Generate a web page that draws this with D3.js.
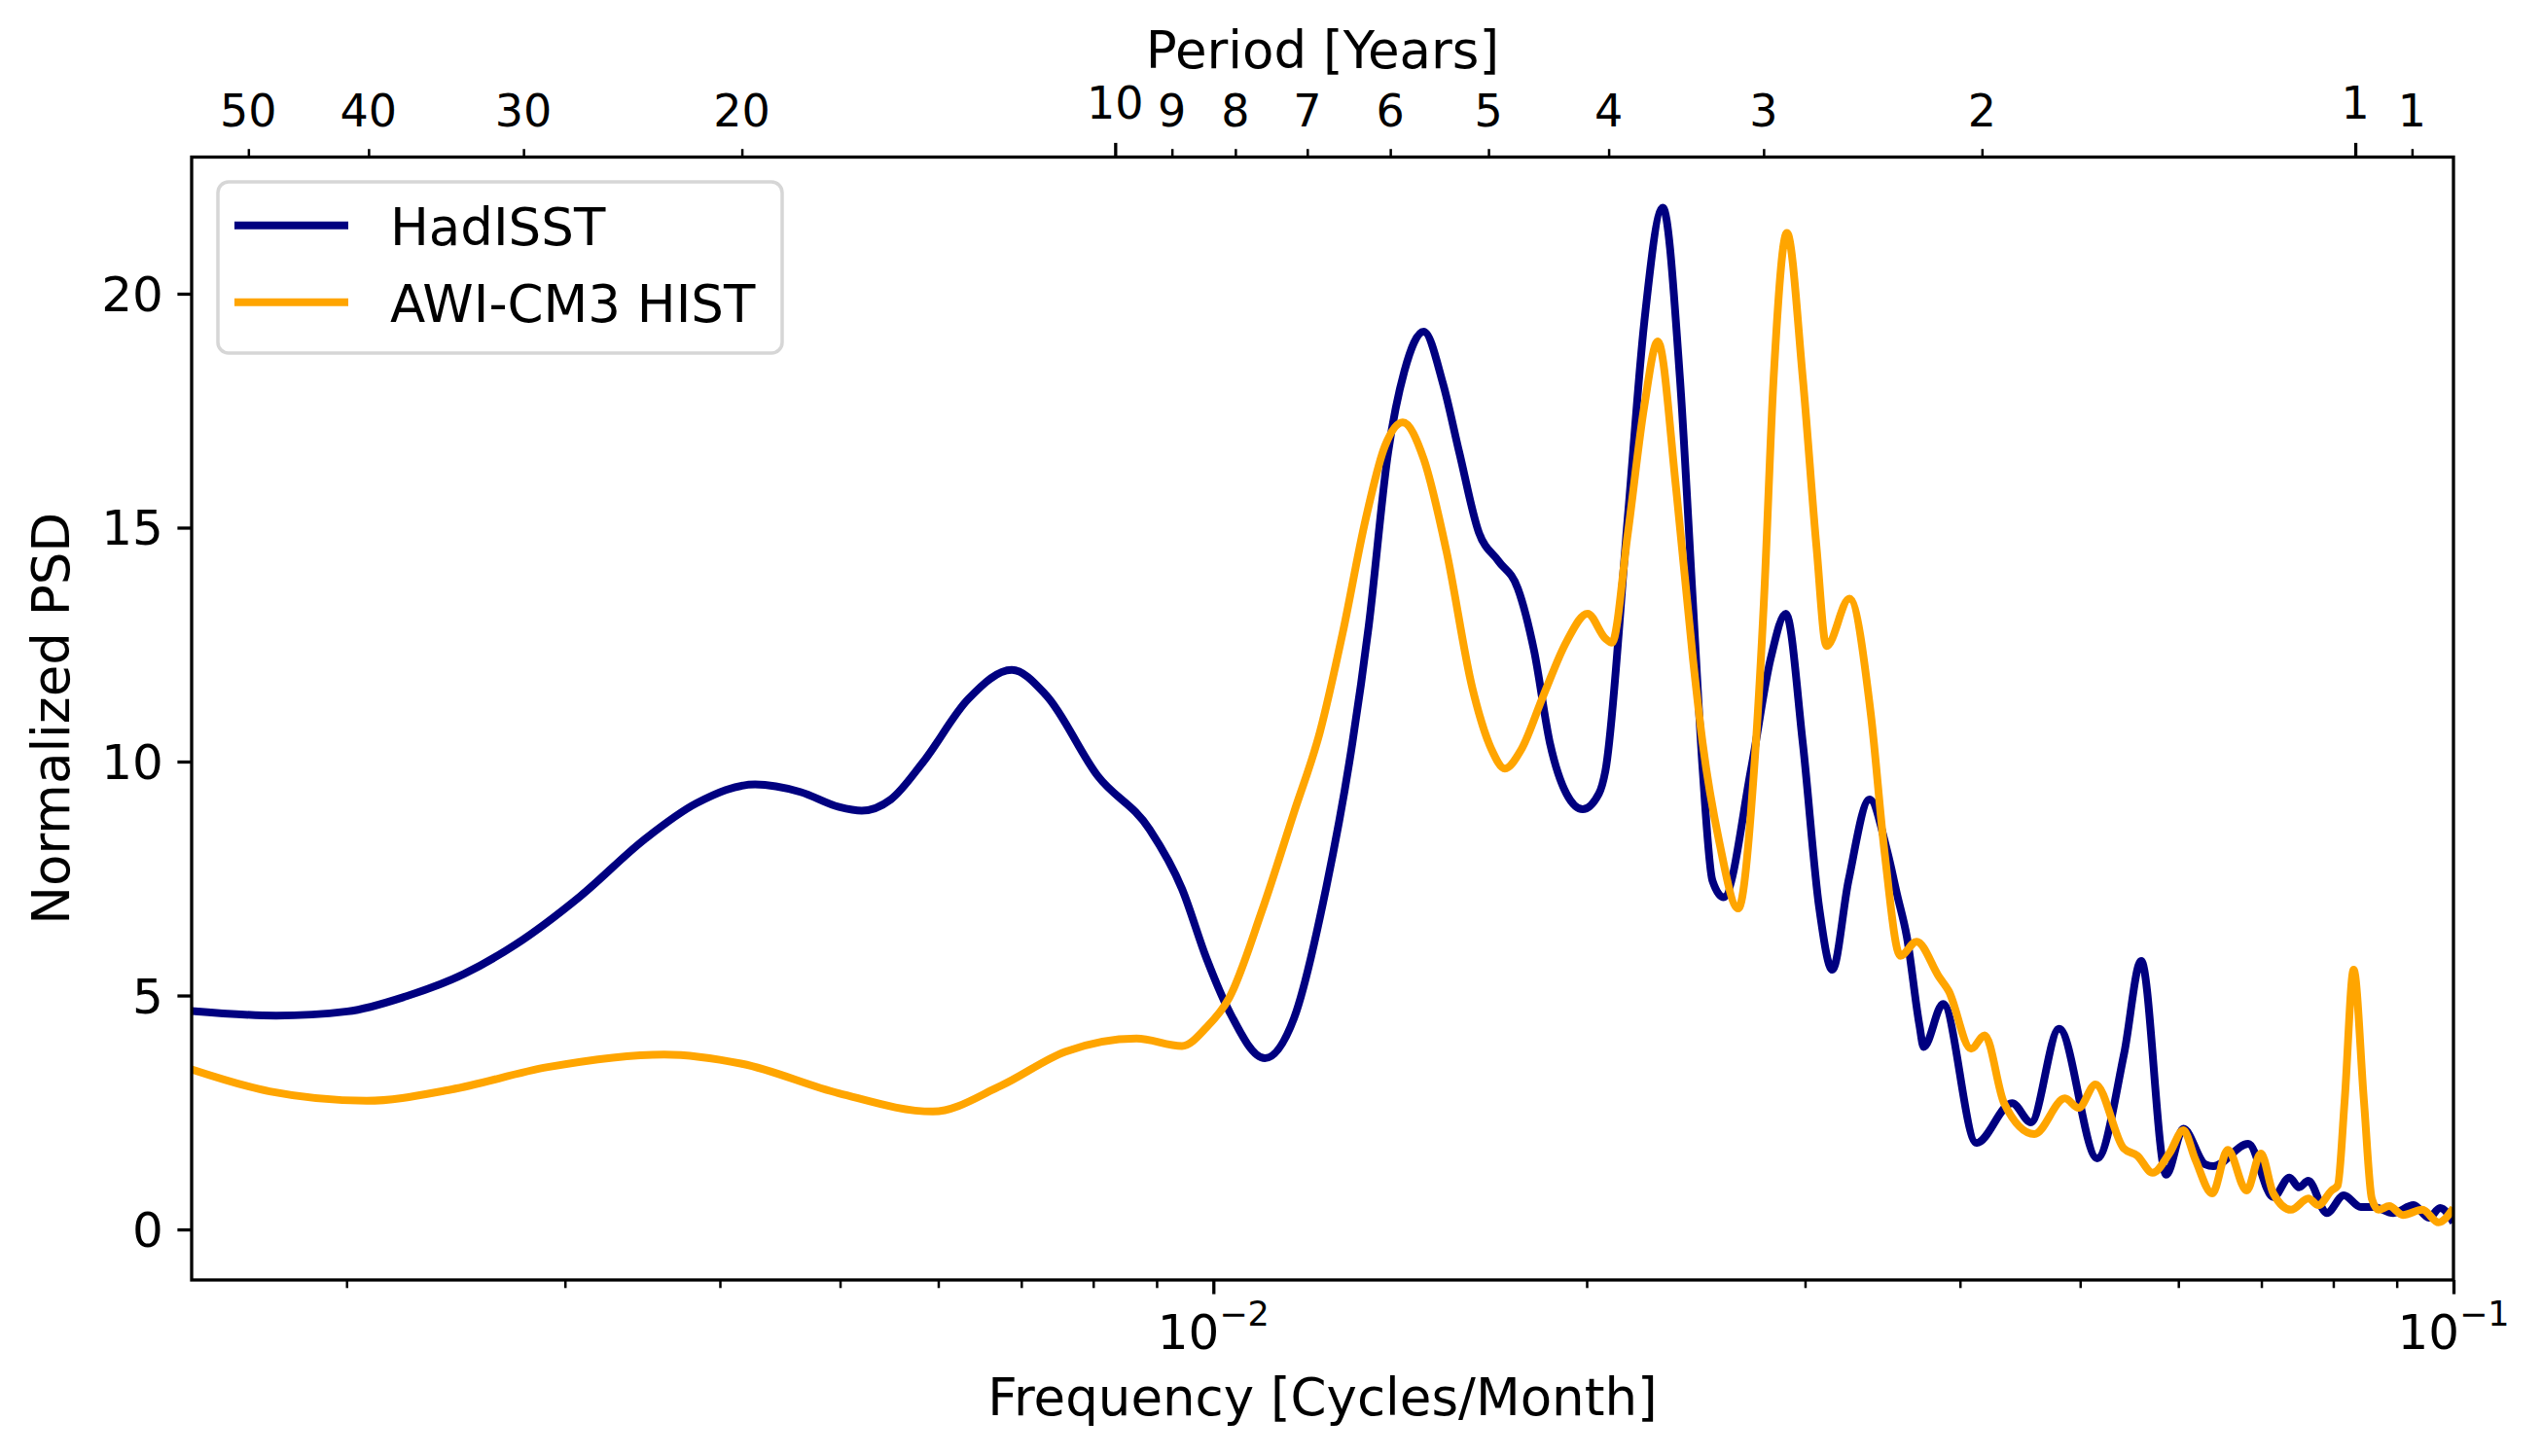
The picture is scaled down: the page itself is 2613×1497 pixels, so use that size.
<!DOCTYPE html>
<html><head><meta charset="utf-8">
<script src="https://cdn.jsdelivr.net/npm/d3@7"></script>
<style>
body{margin:0;background:#fff}
text{font-family:"DejaVu Sans",sans-serif;fill:#000}
</style>
</head><body>
<svg id="chart" width="2613" height="1497"></svg>
<script>
// ---------------- data ----------------
const hadFreq = [0.0015,0.001755,0.002003,0.002232,0.002487,0.002737,0.003086,0.003479,0.003831,0.00427,
  0.004644,0.004989,0.005205,0.005494,0.005834,0.006346,0.006878,0.00733,0.008069,0.008883,
  0.009434,0.009874,0.010299,0.011004,0.011617,0.012336,0.012871,0.013344,0.013832,0.014256,
  0.014777,0.01532,0.015789,0.01637,0.016972,0.0176,0.018139,0.01869,0.019263,0.019852,
  0.020456,0.020707,0.021583,0.022259,0.023036,0.02378,0.024361,0.024803,0.025258,0.025793,
  0.027145,0.028144,0.028952,0.029873,0.030804,0.031557,0.032524,0.033823,0.034955,0.035597,
  0.03624,0.037101,0.037392,0.03877,0.041239,0.044061,0.04563,0.048085,0.051608,0.054252,
  0.056,0.058665,0.06056,0.063067,0.064018,0.068314,0.071565,0.07374,0.075076,0.076367,
  0.079034,0.081586,0.084185,0.086244,0.089421,0.092862,0.095546,0.097544,0.1];
const hadPSD = [4.67,4.57,4.66,4.98,5.46,6.09,7.12,8.34,9.11,9.51,
  9.35,9.03,8.95,9.19,9.99,11.34,11.96,11.42,9.69,8.55,
  7.28,5.79,4.66,3.66,4.52,7.33,9.98,12.9,16.6,18.34,
  19.19,18.07,16.6,14.9,14.29,13.7,12.37,10.37,9.31,8.98,
  9.31,9.8,15.2,19.4,21.84,18.2,13.4,9.85,7.46,7.1,
  9.85,12.2,13.16,10.4,6.86,5.55,7.46,9.19,8.07,7.15,
  6.26,4.36,3.9,4.82,1.85,2.7,2.29,4.29,1.52,3.76,
  5.74,1.17,2.15,1.39,1.35,1.83,0.69,1.11,0.9,1.04,
  0.35,0.73,0.48,0.48,0.35,0.52,0.25,0.46,0.15];

const awiFreq = [0.0015,0.001734,0.002076,0.002428,0.002906,0.003607,0.004168,0.004989,0.00594,0.006739,
  0.0076,0.00867,0.009434,0.009874,0.010299,0.01094,0.011617,0.01219,0.012716,0.013262,
  0.01375,0.014213,0.014777,0.015417,0.016175,0.016767,0.017181,0.017706,0.018467,0.019263,
  0.020031,0.020707,0.020957,0.021583,0.022259,0.022825,0.02362,0.024361,0.024803,0.025575,
  0.026502,0.027295,0.02779,0.0283,0.029006,0.029873,0.030641,0.031217,0.032577,0.033902,
  0.03477,0.03581,0.036904,0.038468,0.039164,0.040832,0.041879,0.043411,0.04592,0.048608,
  0.049855,0.051443,0.054214,0.055578,0.0572,0.05902,0.06056,0.061907,0.063901,0.065766,
  0.068109,0.069937,0.071565,0.073961,0.076384,0.077804,0.079737,0.08066,0.081697,0.083081,
  0.084686,0.085926,0.087023,0.088764,0.091037,0.094386,0.097275,0.1];
const awiPSD = [3.42,2.95,2.75,2.99,3.47,3.74,3.54,2.91,2.52,3.07,
  3.8,4.08,3.92,4.32,4.95,6.8,8.92,10.64,12.76,15.16,
  16.74,17.25,16.47,14.49,11.57,10.25,9.85,10.25,11.43,12.56,
  13.16,12.63,12.54,14.86,17.6,18.98,15.8,12.2,10.4,8.3,
  6.86,9.85,13.4,18.2,21.3,18.2,14.6,12.47,13.48,11.0,
  8.07,5.85,6.15,5.4,5.1,3.86,4.15,2.7,2.04,2.8,
  2.6,3.1,1.73,1.58,1.21,1.63,2.12,1.5,0.77,1.7,
  0.83,1.62,0.77,0.42,0.66,0.52,0.83,0.94,2.74,5.55,
  2.74,0.66,0.42,0.5,0.31,0.42,0.15,0.46];

const seriesNames = ["HadISST","AWI-CM3 HIST"];
const seriesColors = ["#000080","#FFA500"];

const yTicks = [0,5,10,15,20];
const xMajorTicks = [0.01,0.1];
const xMajorExp = ["\u22122","\u22121"];
const xMinorTicks = [0.002,0.003,0.004,0.005,0.006,0.007,0.008,0.009,
                     0.02,0.03,0.04,0.05,0.06,0.07,0.08,0.09];
const periodTicks = [50,40,30,20,10,9,8,7,6,5,4,3,2,1,0.9];
const periodLabels = ["50","40","30","20","10","9","8","7","6","5","4","3","2","1","1"];
const periodMajor = [10,1];

const xDomain = [0.0015,0.1];
const yDomain = [-1.08,22.92];

const xLabel = "Frequency [Cycles/Month]";
const yLabel = "Normalized PSD";
const topLabel = "Period [Years]";

// ---------------- layout ----------------
const L = 197, R = 2522, T = 161.5, B = 1316;
const svg = d3.select("#chart");
svg.append("rect").attr("width",2613).attr("height",1497).attr("fill","#fff");

const x = d3.scaleLog().domain(xDomain).range([L,R]);
const y = d3.scaleLinear().domain(yDomain).range([B,T]);

svg.append("clipPath").attr("id","clip").append("rect")
  .attr("x",L).attr("y",T).attr("width",R-L).attr("height",B-T);

// lines
const mk = (fs,vs)=>fs.map((f,i)=>({f:f,v:vs[i]}));
const data = [mk(hadFreq,hadPSD), mk(awiFreq,awiPSD)];
const line = d3.line().x(d=>x(d.f)).y(d=>y(d.v)).curve(d3.curveMonotoneX);
const gl = svg.append("g").attr("clip-path","url(#clip)");
data.forEach((d,i)=>{
  gl.append("path").attr("d",line(d)).attr("fill","none")
    .attr("stroke",seriesColors[i]).attr("stroke-width",8)
    .attr("stroke-linejoin","round").attr("stroke-linecap","butt");
});

// axes ticks
const MAJ = 14.6, MIN = 8.3;
function styleAxis(g,w){
  g.select(".domain").remove();
  g.selectAll(".tick line").attr("stroke","#000").attr("stroke-width",w);
  g.selectAll(".tick text").remove();
}
// bottom
svg.append("g").attr("transform",`translate(0,${B})`)
  .call(d3.axisBottom(x).tickValues(xMajorTicks).tickSize(MAJ).tickSizeOuter(0))
  .call(g=>styleAxis(g,3.3));
svg.append("g").attr("transform",`translate(0,${B})`)
  .call(d3.axisBottom(x).tickValues(xMinorTicks).tickSize(MIN).tickSizeOuter(0))
  .call(g=>styleAxis(g,2.5));
// left
svg.append("g").attr("transform",`translate(${L},0)`)
  .call(d3.axisLeft(y).tickValues(yTicks).tickSize(MAJ).tickSizeOuter(0))
  .call(g=>styleAxis(g,3.3));
// top (period)
const pf = p=>1/(12*p);
svg.append("g").attr("transform",`translate(0,${T})`)
  .call(d3.axisTop(x).tickValues(periodTicks.filter(p=>periodMajor.includes(p)).map(pf)).tickSize(MAJ).tickSizeOuter(0))
  .call(g=>styleAxis(g,3.3));
svg.append("g").attr("transform",`translate(0,${T})`)
  .call(d3.axisTop(x).tickValues(periodTicks.filter(p=>!periodMajor.includes(p)).map(pf)).tickSize(MIN).tickSizeOuter(0))
  .call(g=>styleAxis(g,2.5));

// tick labels
svg.append("g").selectAll("text").data(yTicks).join("text")
  .attr("x",L-MAJ-14.6).attr("y",d=>y(d)+18).attr("text-anchor","end")
  .attr("font-size",50).text(d=>String(d));

const bl = svg.append("g").selectAll("text").data(xMajorTicks).join("text")
  .attr("x",d=>x(d)).attr("y",B+71).attr("text-anchor","middle").attr("font-size",50);
bl.append("tspan").text("10");
bl.append("tspan").attr("dy",-24).attr("font-size",35).text((d,i)=>xMajorExp[i]);

svg.append("g").selectAll("text").data(periodTicks).join("text")
  .attr("x",d=>x(pf(d)))
  .attr("y",d=>periodMajor.includes(d)? T-40 : T-32)
  .attr("text-anchor","middle").attr("font-size",46)
  .text((d,i)=>periodLabels[i]);

// axis labels
svg.append("text").attr("x",(L+R)/2).attr("y",1455).attr("text-anchor","middle")
  .attr("font-size",53).text(xLabel);
svg.append("text").attr("x",(L+R)/2).attr("y",70).attr("text-anchor","middle")
  .attr("font-size",53).text(topLabel);
svg.append("text").attr("transform",`translate(71,${(T+B)/2}) rotate(-90)`)
  .attr("text-anchor","middle").attr("font-size",53).text(yLabel);

// frame
svg.append("rect").attr("x",L).attr("y",T).attr("width",R-L).attr("height",B-T)
  .attr("fill","none").attr("stroke","#000").attr("stroke-width",3.3);

// legend
const lg = svg.append("g");
lg.append("rect").attr("x",224).attr("y",187).attr("width",580).attr("height",176)
  .attr("rx",11).attr("fill","#fff").attr("fill-opacity",0.8)
  .attr("stroke","#d6d6d6").attr("stroke-width",3.5);
seriesNames.forEach((n,i)=>{
  const yy = 231.7 + i*79;
  lg.append("line").attr("x1",245).attr("x2",354).attr("y1",yy).attr("y2",yy)
    .attr("stroke",seriesColors[i]).attr("stroke-width",8).attr("stroke-linecap","square");
  lg.append("text").attr("x",401).attr("y",yy+20).attr("font-size",53).text(n);
});
</script>
</body></html>
